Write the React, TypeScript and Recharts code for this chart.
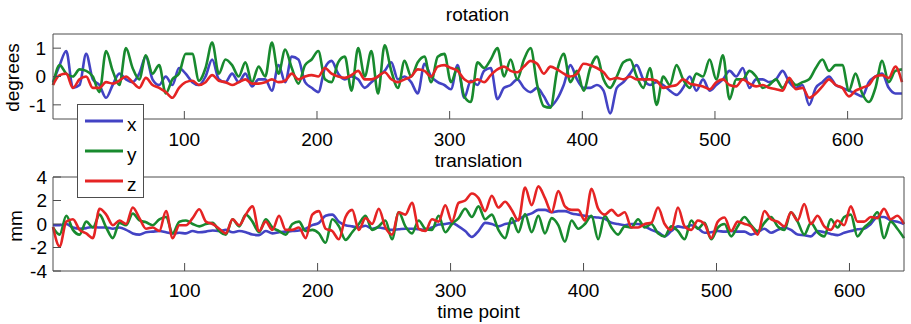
import { LineChart, Line, XAxis, YAxis, Legend } from 'recharts';

// one sample every 5 time points (t = 1, 6, 11, ... 641)
const rotX = [
  -0.2, 0.4, 0.9, -0.4, -0.3, 0.8, -0.1, -0.3, -0.75, -0.3,
  0.1, -0.1, -0.2, 0.1, 0.7, -0.1, -0.3, 0.0, -0.3, 0.3,
  0.1, -0.2, -0.3, 0.0, 0.6, -0.1, -0.2, 0.1, -0.2, 0.1,
  -0.35, -0.1, -0.1, -0.5, 0.4, -0.2, 0.7, 0.6, -0.2, -0.4,
  -0.55, 0.3, 0.55, 0.1, -0.1, 0.0, -0.1, -0.4, -0.2, 0.0,
  0.2, 0.5, -0.1, 0.0, -0.2, -0.6, 0.45, 0.0, -0.2, -0.3,
  -0.45, 0.4, -0.75, -0.15, -0.3, 0.2, 0.3, -0.8, -0.4, -0.3,
  -0.1, -0.4, -0.55, -0.4, -0.7, -1.05, -0.8, -0.3, 0.4, -0.1,
  -0.4, -0.4, -0.3, -0.5, -1.3, -0.4, -0.2, 0.1, 0.4, -0.1,
  -0.3, -0.2, -0.3, -0.5, -0.65, -0.4, 0.0, -0.5, -0.1, -0.5,
  -0.3, -0.1, 0.2, 0.0, 0.3, -0.4, -0.1, -0.1, -0.2, -0.1,
  0.2, -0.2, -0.4, -0.3, -1.0, -0.4, -0.2, 0.0, -0.3, -0.4,
  -0.5, -0.6, -0.7, -0.2, 0.0, 0.1, -0.4, -0.6, -0.6,
];
const rotY = [
  -0.3, 0.4, 0.1, 0.0, 0.25, 0.2, 0.0, -0.55, 0.9, 0.2,
  -0.3, 1.0, 0.3, -0.1, 0.75, 0.1, 0.4, -0.6, -0.1, 0.1,
  0.8, 0.8, -0.15, 0.3, 1.2, 0.1, 0.6, 0.4, 0.0, 0.5,
  -0.2, 0.35, 0.0, 1.2, 0.1, 0.95, 0.3, -0.25, 0.4, 0.6,
  0.9, -0.1, -0.2, 0.5, 0.7, -0.5, 1.0, 0.0, 0.9, -0.6,
  1.1, 0.2, -0.4, 0.55, 0.0, 0.5, 0.7, -0.2, 0.7, 0.8,
  -0.2, 0.3, -0.7, -0.9, 0.5, 0.3, 0.6, 1.0, 0.0, 0.6,
  -0.1, 0.6, 1.0, -0.3, -1.05, -1.1, 0.2, 0.8, -0.2, 0.2,
  -0.5, 0.3, 0.7, -0.1, -0.4, 0.0, 0.5, 0.6, 0.0, -0.4,
  0.3, -1.0, 0.0, -0.3, 0.4, -0.1, -0.4, 0.1, 0.0, 0.6,
  -0.1, 0.75, -0.8, -0.1, -0.1, 0.2, 0.0, -0.4, -0.3, -0.1,
  -0.4, -0.1, -0.3, -0.2, -0.1, 0.3, 0.6, 0.2, 0.4, 0.4,
  -0.5, 0.1, -0.6, -0.9, -0.4, 0.55, -0.2, 0.2, 0.25,
];
const rotZ = [
  -0.3, 0.05, 0.1, -0.4, -0.1, 0.0, -0.4, -0.4, -0.2, -0.25,
  -0.15, 0.0, -0.2, -0.4, -0.05, -0.3, -0.4, -0.55, -0.75, -0.4,
  -0.2, -0.15, -0.3, -0.2, 0.05, -0.15, -0.2, -0.3, -0.2, -0.1,
  -0.25, -0.25, -0.2, -0.1, -0.2, -0.15, 0.1, -0.1, 0.0, 0.05,
  0.0, 0.3, 0.1, 0.0, -0.05, 0.05, 0.2, -0.1, -0.1, 0.0,
  0.15, -0.1, -0.2, -0.1, 0.0, 0.25, 0.2, 0.0, 0.35, 0.4,
  0.3, 0.2, -0.1, -0.2, -0.1, -0.2, 0.05, 0.25, 0.35, 0.2,
  0.15, 0.35, 0.55, 0.45, 0.1, 0.35, 0.25, 0.1, 0.0, 0.1,
  0.45, 0.4, 0.3, 0.15, -0.1, -0.05, -0.1, 0.0, -0.1, -0.1,
  -0.1, -0.15, -0.4, -0.35, -0.3, -0.1, -0.25, -0.3, -0.35, -0.45,
  -0.2, -0.1, -0.3, -0.35, -0.1, -0.25, -0.35, -0.3, -0.4, -0.45,
  -0.5, -0.05, -0.45, -0.4, -0.75, -0.6, -0.35, -0.1, -0.3, -0.4,
  -0.7, -0.5, -0.4, -0.3, 0.0, 0.05, -0.05, 0.35, -0.2,
];

const transX = [
  -0.1, -0.1, 0.0, -0.3, -0.4, -0.35, -0.25, -0.3, -0.3, -0.4,
  -0.3, -0.5, -0.8, -0.9, -0.7, -0.65, -0.6, -0.7, -0.8, -0.75,
  -0.8, -0.6, -0.7, -0.65, -0.55, -0.6, -0.5, -0.7, -0.6, -0.7,
  -0.9, -0.95, -0.6, -0.8, -0.7, -0.65, -0.6, -0.55, -0.4, -0.1,
  0.1, 0.7, 0.8, 0.2, -0.1, -0.2, -0.3, -0.15, -0.4, -0.3,
  -0.4, -0.5, -0.45, -0.4, -0.4, -0.45, -0.5, -0.3, -0.05, 0.0,
  0.1, -0.2, -0.6, -1.1, -0.6, 0.1, 0.0, -0.2, 0.0, 0.1,
  0.4, 0.7, 0.9, 1.2, 1.2, 1.0, 1.1, 1.1, 0.9, 0.8,
  0.7, 0.6, 0.55, 0.45, 0.1, 0.0, -0.1, 0.0, 0.0, -0.2,
  -0.5, -0.7, -1.05, -0.6, -0.2, -0.3, -0.1, -0.35, -0.75, -0.7,
  -0.6, -0.65, -0.6, -0.65, -0.65, -0.9, -0.7, -0.4, -0.75, -0.5,
  -0.3, -0.5, -0.9, -0.95, -1.05, -0.6, -0.7, -0.85, -0.95, -0.75,
  -0.6, -0.45, -0.4, 0.0, 0.6, 0.6, 0.3, 0.2, 0.0,
];
const transY = [
  -0.3, -0.9, 0.7, -0.5, -0.9, 0.2, -0.3, 0.8, -0.3, -1.2,
  0.1, -0.1, 0.9, 0.3, 0.15, -0.1, 0.4, 0.6, -0.8, 0.2,
  0.3, 0.0, -0.2, 0.0, 0.1, -0.6, -0.9, 0.4, -0.2, 0.8,
  0.2, -0.7, 0.4, -0.3, -0.6, -0.9, 0.0, 0.2, -0.6, -0.5,
  -0.8, -1.6, 0.4, -0.2, -1.35, -0.7, 0.0, 0.7, -0.5, -0.2,
  0.3, -1.3, 1.0, -0.2, -0.8, 0.3, -0.4, -0.5, 0.7, -0.7,
  0.0, 0.5, 1.3, 0.6, 1.5, 0.4, 0.8, -0.5, -1.2, 0.5,
  -0.7, 0.85, -0.7, 0.7, -0.8, 0.5, -0.1, -1.5, 0.3, -0.4,
  0.0, 0.7, -1.3, 0.7, -0.3, -0.9, -0.2, -0.3, 0.4, -0.3,
  0.0, -0.8, -1.05, -0.2, -0.6, -1.3, 0.3, -0.4, 0.1, -1.3,
  -0.3, 0.0, -1.05, -0.2, 0.6, -0.1, -0.6, 0.1, 0.6, -0.2,
  -0.5, 1.0, 0.2, -0.9, 0.1, -0.7, -1.05, 0.4, -0.3, 0.6,
  0.8, -1.05, -0.3, 0.2, 1.0, -1.2, 0.2, -0.4, -1.2,
];
const transZ = [
  -0.25, -1.9, 0.2, 0.4, -0.5, -0.8, -1.2, 1.3, 0.8, -0.1,
  0.3, 0.0, 1.4, 0.5, -0.4, -0.3, -0.6, 1.1, -1.2, -0.1,
  -0.1, 0.5, 1.25, 0.2, 0.0, -0.4, -0.8, 0.4, -0.1, 0.8,
  1.5, -0.6, 0.2, -0.5, 0.7, -0.5, -0.5, -0.3, -1.2, 0.8,
  1.1, -0.4, -0.6, -1.3, 0.6, 1.2, -0.5, 0.5, 0.0, 1.3,
  -0.3, -0.9, 1.0, 0.8, 1.8, -0.4, -0.6, 0.4, 0.2, 1.6,
  0.2, 1.8, 2.0, 2.6, 2.2, 1.1, 2.4, 1.4, 1.9, 1.2,
  0.3, 3.1, 1.6, 3.2, 2.2, 1.0, 2.8, 1.5, 1.2, 1.2,
  0.3, 3.0, 1.3, 0.8, 1.2, 0.7, 1.0, -0.3, -0.3, 0.0,
  0.1, 1.4, 0.0, -0.5, 1.4, -0.2, -0.5, 0.3, 0.0, -1.2,
  0.2, 0.55, -0.6, 0.2, 0.0, -0.2, -0.9, 1.1, 0.4, 0.2,
  -0.2, 1.0, 0.3, 1.7, 0.0, 0.7, -0.2, -0.5, 0.3, -0.1,
  1.5, 0.2, 0.2, 0.6, 0.5, 1.3, 0.4, 0.7, 0.0,
];

const timeTicks = [100, 200, 300, 400, 500, 600];
const rotationTicks = [-1, 0, 1];
const translationTicks = [-4, -2, 0, 2, 4];

const timePoints = rotX.map((_, i) => 1 + i * 5);

const rotationRows = timePoints.map((t, i) => ({ t, x: rotX[i], y: rotY[i], z: rotZ[i] }));
const translationRows = timePoints.map((t, i) => ({ t, x: transX[i], y: transY[i], z: transZ[i] }));

const FONT = '"Liberation Sans", Arial, Helvetica, sans-serif';
const axisColor = '#4d4d4d';
const colors = { x: '#4343c4', y: '#188a2e', z: '#e52424' };
const tickFont = { fill: '#000', fontSize: 19, fontFamily: FONT };
const axisProps = {
  axisLine: { stroke: axisColor },
  tickLine: { stroke: axisColor },
  tickSize: -8,
  interval: 0 as const,
};

const renderLegend = (props: any) => {
  const items = props.payload || [];
  return (
    <svg width={67} height={94} style={{ display: 'block' }}>
      <rect x={0.5} y={0.5} width={66} height={93} fill="#fff" stroke={axisColor} />
      {items.map((item: any, i: number) => (
        <g key={`leg-${i}`}>
          <line x1={8} x2={46} y1={17 + 30 * i} y2={17 + 30 * i} stroke={item.color} strokeWidth={2.8} />
          <text x={50} y={27 + 30 * i} fontSize={19} fontFamily={FONT} fill="#000">{item.value}</text>
        </g>
      ))}
    </svg>
  );
};

const seriesLines = () =>
  (['x', 'y', 'z'] as const).map(k => (
    <Line
      key={k}
      xAxisId="b"
      yAxisId="l"
      type="monotone"
      dataKey={k}
      name={k}
      stroke={colors[k]}
      strokeWidth={2.6}
      strokeLinejoin="round"
      dot={false}
      activeDot={false}
      isAnimationActive={false}
    />
  ));

const App = () => {
  return (
    <div style={{ position: 'absolute', left: 0, top: 0, width: 911, height: 324, background: '#fff', fontFamily: FONT }}>
      <div style={{ position: 'absolute', left: 0, top: 0, zIndex: 2 }}>
        <LineChart width={911} height={152} data={rotationRows} margin={{ top: 33, right: 0, bottom: 0, left: 0 }}>
          <XAxis xAxisId="b" dataKey="t" type="number" domain={[1, 641]} ticks={timeTicks} orientation="bottom" height={33}
            tickMargin={22} tick={tickFont} {...axisProps} />
          <XAxis xAxisId="t" dataKey="t" type="number" domain={[1, 641]} ticks={timeTicks} orientation="top" height={1}
            tick={false} {...axisProps} />
          <YAxis yAxisId="l" type="number" domain={[-1.5, 1.5]} ticks={rotationTicks} width={53}
            tickMargin={15} tick={tickFont} {...axisProps} />
          <YAxis yAxisId="r" orientation="right" type="number" domain={[-1.5, 1.5]} ticks={rotationTicks} width={9}
            tick={false} {...axisProps} />
          {seriesLines()}
          <Legend layout="horizontal" verticalAlign="middle" align="center" content={renderLegend}
            wrapperStyle={{ position: 'absolute', left: 77, top: 104, width: 67, height: 94, zIndex: 5 }} />
        </LineChart>
      </div>
      <div style={{ position: 'absolute', left: 0, top: 150, zIndex: 1 }}>
        <LineChart width={911} height={174} data={translationRows} margin={{ top: 26, right: 0, bottom: 0, left: 0 }}>
          <XAxis xAxisId="b" dataKey="t" type="number" domain={[1, 641]} ticks={timeTicks} orientation="bottom" height={53}
            tickMargin={21} tick={tickFont} {...axisProps} />
          <XAxis xAxisId="t" dataKey="t" type="number" domain={[1, 641]} ticks={timeTicks} orientation="top" height={1}
            tick={false} {...axisProps} />
          <YAxis yAxisId="l" type="number" domain={[-4, 4]} ticks={translationTicks} width={53}
            tickMargin={14} tick={tickFont} {...axisProps} />
          <YAxis yAxisId="r" orientation="right" type="number" domain={[-4, 4]} ticks={translationTicks} width={7}
            tick={false} {...axisProps} />
          {seriesLines()}
        </LineChart>
      </div>
      <svg width={911} height={324} style={{ position: 'absolute', left: 0, top: 0, zIndex: 3, pointerEvents: 'none' }}>
        <g fontFamily={FONT} fontSize={19} fill="#000">
          <text x={477.5} y={20.5} textAnchor="middle">rotation</text>
          <text x={478.5} y={166.5} textAnchor="middle">translation</text>
          <text x={478.5} y={318} textAnchor="middle">time point</text>
          <text x={19} y={77.5} textAnchor="middle" transform="rotate(-90 19 77.5)">degrees</text>
          <text x={21.5} y={226} textAnchor="middle" transform="rotate(-90 21.5 226)">mm</text>
        </g>
      </svg>
    </div>
  );
};

export default App;
